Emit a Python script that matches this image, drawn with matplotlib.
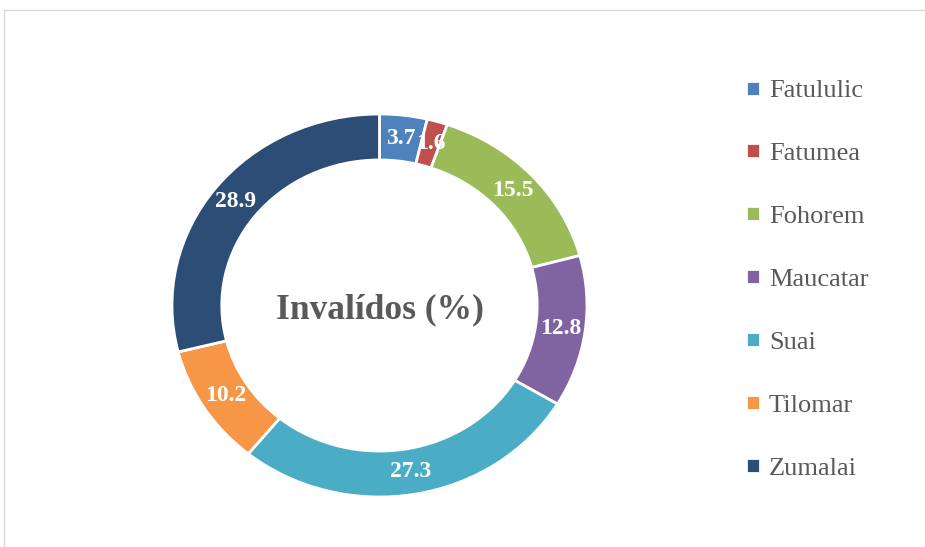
import matplotlib
matplotlib.use("Agg")
import matplotlib.pyplot as plt
from matplotlib.lines import Line2D

# data
names = ["Fatululic", "Fatumea", "Fohorem", "Maucatar", "Suai", "Tilomar", "Zumalai"]
values = [3.7, 1.6, 15.5, 12.8, 27.3, 10.2, 28.9]
colors = ["#4F81BD", "#C0504D", "#9BBB59", "#8064A2", "#4BACC6", "#F79646", "#2C4D75"]
title = "Invalídos (%)"

plt.rcParams["font.family"] = ["Liberation Serif", "DejaVu Serif"]

fig = plt.figure(figsize=(9.25, 5.47), dpi=100)
# donut axes (slightly stretched horizontally, like the original)
ax = fig.add_axes([0.1635, 0.0564, 0.4935, 0.7702])

wedges, texts = ax.pie(values, labels=[f"{v:.1f}" for v in values],
                       colors=colors, startangle=90, counterclock=False,
                       labeldistance=0.88, radius=1,
                       wedgeprops=dict(width=0.24, edgecolor="white", linewidth=2),
                       textprops=dict(color="white", fontsize=17, fontweight="bold"))
for t in texts:
    t.set_ha("center")
    t.set_va("center")

ax.set_aspect("auto")
ax.set_xlim(-1.1, 1.1)
ax.set_ylim(-1.1, 1.1)
ax.text(0, -0.02, title, ha="center", va="center", fontsize=25.5,
        fontweight="bold", color="#595959")

fig.legend(wedges, names, loc="upper left", bbox_to_anchor=(0.807, 0.853),
           frameon=False, fontsize=19, labelcolor="#595959",
           handlelength=0.5, handleheight=0.5, handletextpad=0.35,
           labelspacing=1.55, borderpad=0, borderaxespad=0)

# light frame around the chart area
fig.add_artist(Line2D([4 / 925, 1], [1 - 10 / 547, 1 - 10 / 547], color="#D9D9D9", lw=1))
fig.add_artist(Line2D([4 / 925, 4 / 925], [0, 1 - 10 / 547], color="#D9D9D9", lw=1))

fig.savefig("out.png", dpi=100)
